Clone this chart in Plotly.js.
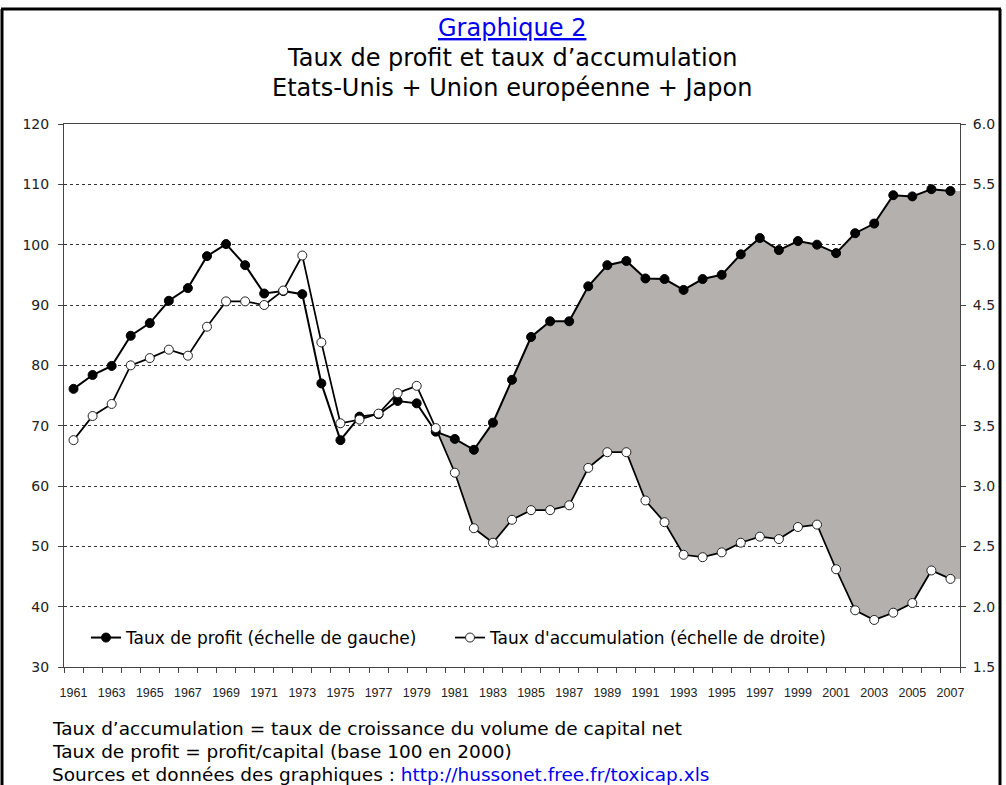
<!DOCTYPE html>
<html>
<head>
<meta charset="utf-8">
<script src="https://cdn.plot.ly/plotly-3.0.1.min.js"></script>
<style>html,body{margin:0;padding:0;background:#fff;}#chart{width:1006px;height:785px;}</style>
</head>
<body>
<div id="chart"></div>
<script>
// ---- data ----
const years = [1961,1962,1963,1964,1965,1966,1967,1968,1969,1970,1971,1972,1973,1974,1975,1976,1977,1978,1979,1980,
  1981,1982,1983,1984,1985,1986,1987,1988,1989,1990,1991,1992,1993,1994,1995,1996,1997,1998,1999,2000,
  2001,2002,2003,2004,2005,2006,2007];
const profitRate = [76.1,78.4,79.9,84.9,87.0,90.7,92.8,98.1,100.1,96.6,91.9,92.3,91.8,77.0,67.6,71.5,71.9,74.1,73.7,69.0,
  67.8,66.0,70.5,77.6,84.7,87.3,87.3,93.1,96.6,97.3,94.4,94.3,92.5,94.3,95.0,98.4,101.1,99.1,100.6,100.0,
  98.6,101.9,103.5,108.2,108.0,109.2,108.9];
const accumRate = [3.38,3.58,3.68,4.00,4.06,4.13,4.08,4.32,4.53,4.53,4.50,4.62,4.91,4.19,3.52,3.55,3.60,3.77,3.83,3.48,
  3.11,2.65,2.53,2.72,2.80,2.80,2.84,3.15,3.28,3.28,2.88,2.70,2.43,2.41,2.45,2.53,2.58,2.56,2.66,2.68,
  2.31,1.97,1.89,1.95,2.03,2.30,2.23];
const tickYears = [1961,1963,1965,1967,1969,1971,1973,1975,1977,1979,1981,1983,1985,1987,1989,1991,1993,1995,1997,1999,2001,2003,2005,2007];
const fillStartYear = 1980;
const leftRange = [30, 120];
const rightRange = [1.5, 6.0];

const profitName = 'Taux de profit (échelle de gauche)';
const accumName = "Taux d'accumulation (échelle de droite)";
const titleLines = ['Graphique 2', 'Taux de profit et taux d’accumulation', 'Etats-Unis + Union européenne + Japon'];
const noteLines = ['Taux d’accumulation = taux de croissance du volume de capital net',
  'Taux de profit = profit/capital (base 100 en 2000)',
  'Sources et données des graphiques : '];
const sourceUrl = 'http://hussonet.free.fr/toxicap.xls';

// ---- derived ----
function toLeft(r){ return leftRange[0] + (r - rightRange[0]) * (leftRange[1]-leftRange[0])/(rightRange[1]-rightRange[0]); }
const i0 = years.indexOf(fillStartYear);
const fx = [], fy = [];
for (let i = i0; i < years.length; i++){ fx.push(years[i]); fy.push(profitRate[i]); }
const last = years.length-1;
fx.push(years[last]+0.5); fy.push(profitRate[last]);
fx.push(years[last]+0.5); fy.push(toLeft(accumRate[last]));
for (let i = last; i >= i0; i--){ fx.push(years[i]); fy.push(toLeft(accumRate[i])); }
const bounds = years.map(y=>y-0.5).concat([years[last]+0.5]);

const FONT = 'DejaVu Sans, Verdana, sans-serif';

const traces = [
  {x: fx, y: fy, type:'scatter', mode:'lines', fill:'toself', fillcolor:'#b4b0ae',
   line:{width:0, color:'rgba(0,0,0,0)'}, showlegend:false, hoverinfo:'skip', yaxis:'y'},
  {x: years, y: profitRate, type:'scatter', mode:'lines+markers', name: profitName, yaxis:'y', legend:'legend',
   line:{color:'#000', width:2}, marker:{symbol:'circle', size:9, color:'#000', line:{color:'#000', width:1}}},
  {x: years, y: accumRate, type:'scatter', mode:'lines+markers', name: accumName, yaxis:'y2', legend:'legend2',
   line:{color:'#000', width:1.75}, marker:{symbol:'circle', size:9, color:'#fff', line:{color:'#222', width:1}}}
];

const W=1006, H=785, ml=64, mr=46, mt=124, mb=118;
const pw = W-ml-mr, ph = H-mt-mb;
const px = v => (v-ml)/pw;
const py = v => (H-mb-v)/ph;

const annotations = [];
titleLines.forEach((t, k) => {
  annotations.push({xref:'paper', yref:'paper', x: px(512), y: py([28,58,88][k]), xanchor:'center', yanchor:'middle',
    text: k===0 ? '<u>'+t+'</u>' : t, showarrow:false,
    font:{family:FONT, size:24, color: k===0 ? '#0000ee' : '#000'}});
});
noteLines.forEach((t, k) => {
  annotations.push({xref:'paper', yref:'paper', x: px(50), y: py([728,751,774][k]), xanchor:'left', yanchor:'middle',
    text: k===2 ? t + '<span style="color:#0000ee">'+sourceUrl+'</span>' : t, showarrow:false,
    font:{family:FONT, size:18.5, color:'#000'}});
});

const shapes = [
  {type:'line', xref:'paper', yref:'paper', x0:px(2), x1:px(2), y0:py(790), y1:py(9), line:{color:'#000', width:3}},
  {type:'line', xref:'paper', yref:'paper', x0:px(1), x1:px(1001), y0:py(9), y1:py(9), line:{color:'#000', width:3}},
  {type:'line', xref:'paper', yref:'paper', x0:px(1000), x1:px(1000), y0:py(790), y1:py(9), line:{color:'#000', width:3}}
];

const legendBase = {orientation:'h', yanchor:'middle', xanchor:'left', y: py(638),
  bgcolor:'rgba(0,0,0,0)', font:{family:FONT, size:17, color:'#000'}};

const layout = {
  width: W, height: H,
  margin:{l:ml, r:mr, t:mt, b:mb, pad:0},
  paper_bgcolor:'#fff', plot_bgcolor:'#fff',
  showlegend:true,
  legend: Object.assign({}, legendBase, {x: px(86)}),
  legend2: Object.assign({}, legendBase, {x: px(450)}),
  xaxis:{range:[years[0]-0.5, years[last]+0.5], tickmode:'array', tickvals:tickYears, ticktext:tickYears.map(String),
    ticks:'', showline:true, mirror:true, linecolor:'#444', linewidth:1, showgrid:false, zeroline:false,
    ticklabelstandoff: 14,
    tickfont:{family:'Liberation Sans, Arial, sans-serif', size:12.5, color:'#222'},
    minor:{tickmode:'array', tickvals:bounds, ticks:'outside', ticklen:5, tickcolor:'#444', tickwidth:1, showgrid:false}},
  yaxis:{range:leftRange, tick0:30, dtick:10, ticks:'outside', ticklen:5, tickcolor:'#444', showline:true, linecolor:'#444', linewidth:1,
    showgrid:true, gridcolor:'#333', griddash:'3px,3px', gridwidth:1, zeroline:false,
    tickfont:{family:FONT, size:14, color:'#222'}, ticklabelstandoff: 6},
  yaxis2:{range:rightRange, tick0:1.5, dtick:0.5, tickformat:'.1f', overlaying:'y', side:'right', ticks:'outside', ticklen:5,
    tickcolor:'#444', showline:true, linecolor:'#444', linewidth:1, showgrid:false, zeroline:false,
    tickfont:{family:FONT, size:14, color:'#222'}, ticklabelstandoff: 4},
  annotations, shapes,
  hovermode:false
};

Plotly.newPlot('chart', traces, layout, {staticPlot:true, displayModeBar:false});
</script>
</body>
</html>
